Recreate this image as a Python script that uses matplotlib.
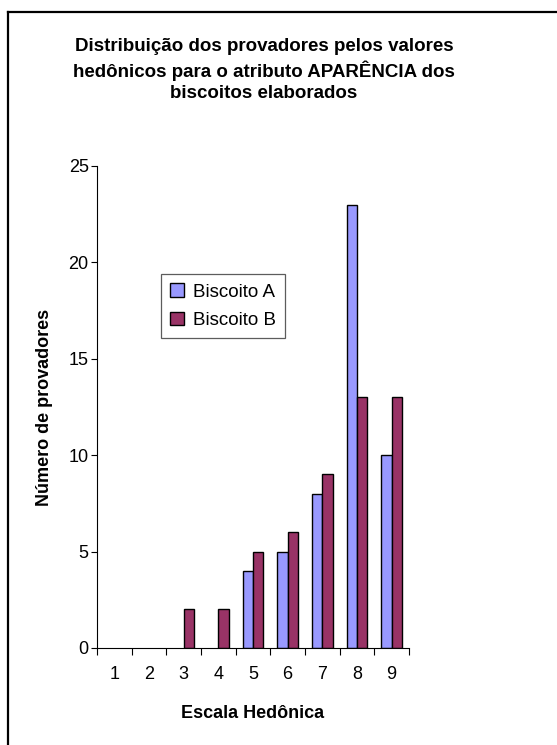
import matplotlib
matplotlib.use("Agg")
import matplotlib.pyplot as plt
from matplotlib.lines import Line2D
import numpy as np

plt.rcParams['font.family'] = ['Liberation Sans', 'DejaVu Sans']

escala = ['1', '2', '3', '4', '5', '6', '7', '8', '9']
biscoito_a = [0, 0, 0, 0, 4, 5, 8, 23, 10]
biscoito_b = [0, 0, 2, 2, 5, 6, 9, 13, 13]

titulo = ('Distribuição dos provadores pelos valores\n'
          'hedônicos para o atributo APARÊNCIA dos\n'
          'biscoitos elaborados')

W, H = 557, 745
fig = plt.figure(figsize=(W / 100, H / 100), dpi=100)
ax = fig.add_axes([97 / W, 1 - 648 / H, (409 - 97) / W, (648 - 166) / H])

x = np.arange(len(escala))
w = 0.3
ax.bar(x - w, biscoito_a, width=w, align='edge', color='#9999FF',
       edgecolor='black', linewidth=[1.0 if v > 0 else 0 for v in biscoito_a],
       label='Biscoito A')
ax.bar(x, biscoito_b, width=w, align='edge', color='#993366',
       edgecolor='black', linewidth=[1.0 if v > 0 else 0 for v in biscoito_b],
       label='Biscoito B')

ax.set_xlim(-0.5, len(escala) - 0.5)
ax.set_ylim(0, 25)
ax.set_yticks(range(0, 26, 5))
ax.set_xticks(np.arange(-0.5, len(escala), 1.0))
ax.set_xticklabels([])
ax.set_xticks(x, minor=True)
ax.set_xticklabels(escala, minor=True)
ax.tick_params(axis='x', which='major', direction='out', length=5, width=0.8)
ax.tick_params(axis='x', which='minor', length=0, pad=13, labelsize=13)
ax.tick_params(axis='y', direction='out', length=4, width=0.8, pad=2, labelsize=13)
for s in ['top', 'right']:
    ax.spines[s].set_visible(False)
for s in ['left', 'bottom']:
    ax.spines[s].set_linewidth(0.8)

leg = ax.legend(loc='upper left', bbox_to_anchor=(161 / W, 1 - 274 / H),
                bbox_transform=fig.transFigure, borderaxespad=0,
                fancybox=False, edgecolor='#333333', fontsize=13.5,
                handlelength=0.7, handleheight=0.7, handletextpad=0.5,
                labelspacing=0.6, borderpad=0.5)
leg.get_frame().set_linewidth(0.9)
for h in leg.legend_handles:
    h.set_linewidth(1.0)

fig.text(264 / W, 1 - 70 / H, titulo, ha='center', va='center',
         fontsize=13.5, fontweight='bold', linespacing=1.33)
fig.text(45 / W, 1 - 407 / H, 'Número de provadores', rotation=90,
         ha='center', va='center', fontsize=13, fontweight='bold')
fig.text(253 / W, 1 - 713 / H, 'Escala Hedônica', ha='center', va='center',
         fontsize=13, fontweight='bold')

# moldura (apenas esquerda e topo visíveis)
fig.add_artist(Line2D([8 / W, 8 / W], [0, 1 - 12 / H], color='black',
                      linewidth=1.6, transform=fig.transFigure))
fig.add_artist(Line2D([8 / W, 1], [1 - 12 / H, 1 - 12 / H], color='black',
                      linewidth=1.6, transform=fig.transFigure))

fig.savefig('out.png', dpi=100)
